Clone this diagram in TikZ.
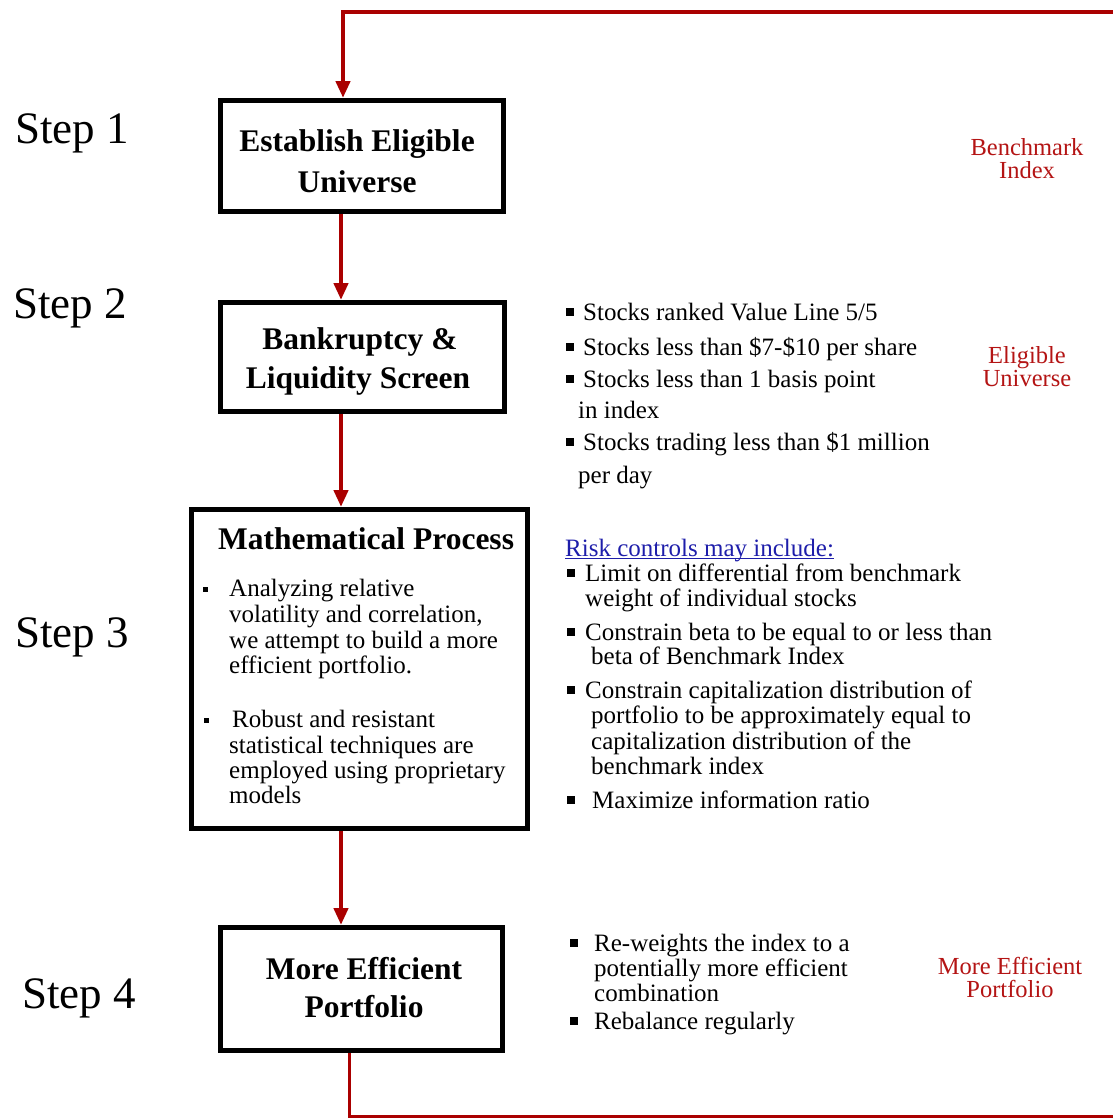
\documentclass[tikz,border=0pt]{standalone}
\usepackage{fontspec}
\setmainfont{Liberation Serif}
\usetikzlibrary{arrows.meta}
\definecolor{arrred}{RGB}{170,0,0}
\definecolor{lblred}{RGB}{180,20,20}
\definecolor{lnkblue}{RGB}{30,30,170}
\tikzset{
  stepl/.style={font=\fontsize{45}{54}\selectfont, anchor=base west, inner sep=0pt},
  boxt/.style={font=\bfseries\fontsize{31.5}{38}\selectfont, anchor=base, inner sep=0pt},
  body/.style={font=\fontsize{25}{30}\selectfont, anchor=base west, inner sep=0pt},
  redl/.style={font=\fontsize{24.5}{29}\selectfont, text=lblred, anchor=base, inner sep=0pt},
  flow/.style={draw=arrred, line width=4.5pt, -{Triangle[length=17pt,width=14pt]}},
  stepbox/.style={draw=black, line width=5pt, inner sep=0pt},
  bsq/.style={fill=black, inner sep=0pt, minimum size=#1},
  bsq/.default=7.5pt
}
\begin{document}
\begin{tikzpicture}[x=1pt,y=-1pt]
\useasboundingbox (0,0) rectangle (1113,1119);
% boxes
\node[stepbox, minimum width=283pt, minimum height=111pt] (b1) at (362,156) {};
\node[stepbox, minimum width=284pt, minimum height=109pt] (b2) at (362.5,357) {};
\node[stepbox, minimum width=336pt, minimum height=319pt] (b3) at (359.5,669) {};
\node[stepbox, minimum width=282pt, minimum height=123pt] (b4) at (361.5,989) {};
% connectors
\coordinate (tr) at (1113,12);
\coordinate (br) at (1113,1116);
\draw[flow] (tr) -| ([xshift=-19pt]b1.north);
\draw[flow] ([xshift=-21pt]b1.south) -- ([xshift=-21.5pt]b2.north);
\draw[flow] ([xshift=-21.5pt]b2.south) -- ([xshift=-18.5pt]b3.north);
\draw[flow] ([xshift=-18.5pt]b3.south) -- ([xshift=-20.5pt]b4.north);
\draw[draw=arrred, line width=3pt] ([xshift=-12.5pt]b4.south) |- (br);
% step labels
\node[stepl] (s1) at (15,143) {Step 1};
\node[stepl] (s2) at (13,318) {Step 2};
\node[stepl] (s3) at (15,647) {Step 3};
\node[stepl] (s4) at (22,1008) {Step 4};
% box texts
\node[boxt] (t1a) at (357,151) {Establish Eligible};
\node[boxt] (t1b) at (357,192) {Universe};
\node[boxt] (t2a) at (360,349) {Bankruptcy \&};
\node[boxt] (t2b) at (358,388) {Liquidity Screen};
\node[boxt] (t3) at (366,549) {Mathematical Process};
\node[boxt] (t4a) at (364,979) {More Efficient};
\node[boxt] (t4b) at (364,1017) {Portfolio};
% box 3 bullets
\node[bsq=5pt] (q31) at (205,589) {};
\node[bsq=5pt] (q32) at (206,720) {};
\node[body] (m1) at (229,596) {Analyzing relative};
\node[body] (m2) at (229,622) {volatility and correlation,};
\node[body] (m3) at (229,648) {we attempt to build a more};
\node[body] (m4) at (229,673) {efficient portfolio.};
\node[body] (m5) at (232,727) {Robust and resistant};
\node[body] (m6) at (229,753) {statistical techniques are};
\node[body] (m7) at (229,778) {employed using proprietary};
\node[body] (m8) at (229,803) {models};
% step 2 list
\node[bsq] (q21) at (570,312) {};
\node[bsq] (q22) at (570,347) {};
\node[bsq] (q23) at (570,379) {};
\node[bsq] (q24) at (570,442) {};
\node[body] (e1) at (583,320) {Stocks ranked Value Line 5/5};
\node[body] (e2) at (583,355) {Stocks less than \$7-\$10 per share};
\node[body] (e3) at (583,387) {Stocks less than 1 basis point};
\node[body] (e4) at (578,418) {in index};
\node[body] (e5) at (583,450) {Stocks trading less than \$1 million};
\node[body] (e6) at (578,483) {per day};
% step 3 list
\node[body, text=lnkblue] (r0) at (565,556) {Risk controls may include:};
\draw[lnkblue, line width=1.2pt] ([yshift=-2.5pt]r0.base west) -- ([yshift=-2.5pt]r0.base east);
\node[bsq] (q31r) at (571,573) {};
\node[bsq] (q32r) at (571,632) {};
\node[bsq] (q33r) at (571,690) {};
\node[bsq] (q34r) at (571,800) {};
\node[body] (r1) at (585,581) {Limit on differential from benchmark};
\node[body] (r2) at (585,606) {weight of individual stocks};
\node[body] (r3) at (585,640) {Constrain beta to be equal to or less than};
\node[body] (r4) at (591,664) {beta of Benchmark Index};
\node[body] (r5) at (585,698) {Constrain capitalization distribution of};
\node[body] (r6) at (591,723) {portfolio to be approximately equal to};
\node[body] (r7) at (591,749) {capitalization distribution of the};
\node[body] (r8) at (591,774) {benchmark index};
\node[body] (r9) at (592,808) {Maximize information ratio};
% step 4 list
\node[bsq] (q41) at (574,943) {};
\node[bsq] (q42) at (574,1021) {};
\node[body] (p1) at (594,951) {Re-weights the index to a};
\node[body] (p2) at (594,976) {potentially more efficient};
\node[body] (p3) at (594,1001) {combination};
\node[body] (p4) at (594,1029) {Rebalance regularly};
% red labels
\node[redl] (g1a) at (1027,155) {Benchmark};
\node[redl] (g1b) at (1027,178) {Index};
\node[redl] (g2a) at (1027,363) {Eligible};
\node[redl] (g2b) at (1027,386) {Universe};
\node[redl] (g4a) at (1010,974) {More Efficient};
\node[redl] (g4b) at (1010,997) {Portfolio};
\end{tikzpicture}
\end{document}
